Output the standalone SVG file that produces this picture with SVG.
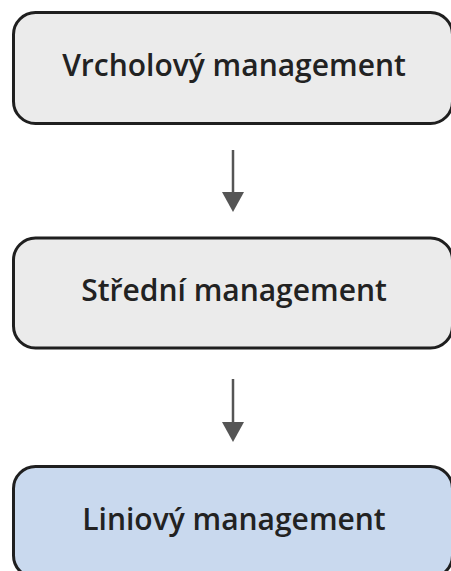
<svg xmlns="http://www.w3.org/2000/svg" width="451" height="571" viewBox="0 0 451 571">
  <defs>
    <style>
      .box { stroke: #1f1f1f; stroke-width: 3; }
      .grey { fill: #ebebeb; }
      .blue { fill: #c9d9ee; }
      .label { font-family: "Open Sans", "Noto Sans", "DejaVu Sans", sans-serif; font-weight: 600; font-size: 30px; fill: #222222; text-anchor: middle; }
      .link { stroke: #555555; stroke-width: 2.5; fill: none; }
      .head { fill: #555555; }
    </style>
  </defs>
  <rect width="451" height="571" fill="#ffffff"/>

  <g id="connectors">
    <line class="link" x1="233" y1="150" x2="233" y2="194"/>
    <polygon class="head" points="222,192 244,192 233,212"/>
    <line class="link" x1="233" y1="379" x2="233" y2="424"/>
    <polygon class="head" points="222,422 244,422 233,442"/>
  </g>

  <g id="node-top">
    <rect class="box grey" x="13.5" y="12.5" width="439" height="111" rx="22" ry="22"/>
    <text class="label" x="234" y="76">Vrcholový management</text>
  </g>

  <g id="node-middle">
    <rect class="box grey" x="13.5" y="238" width="439" height="110" rx="22" ry="22"/>
    <text class="label" x="234" y="301">Střední management</text>
  </g>

  <g id="node-bottom">
    <rect class="box blue" x="13.5" y="466.5" width="439" height="111" rx="22" ry="22"/>
    <text class="label" x="234" y="530">Liniový management</text>
  </g>
</svg>
